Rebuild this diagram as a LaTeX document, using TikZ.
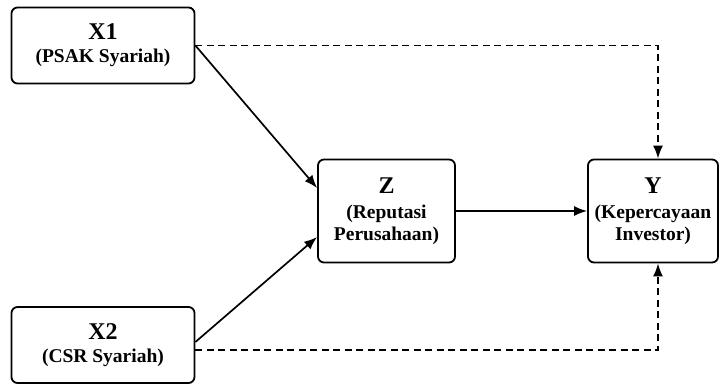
\documentclass[tikz,border=0pt]{standalone}
\usepackage{fontspec}
\setmainfont{Liberation Serif}
\usetikzlibrary{arrows.meta}

\newcommand{\judul}[1]{{\fontsize{24}{26}\selectfont #1}}

\begin{document}
\begin{tikzpicture}[x=1pt, y=1pt,
    var/.style={draw, line width=1.8pt, rounded corners=6pt, align=center,
        font=\bfseries\fontsize{19.5}{22}\selectfont},
    panah/.style={line width=1.7pt, -{Latex[length=13pt,width=10pt]}},
    putus/.style={panah, dashed, dash pattern=on 7pt off 4.5pt}]
    \useasboundingbox (0,0) rectangle (720,-385);

    % variabel
    \node[var, minimum width=183pt, minimum height=76pt] (X1) at (103,-45.5)
        {\judul{X1}\\[1pt](PSAK Syariah)};
    \node[var, minimum width=183pt, minimum height=76pt] (X2) at (103,-345)
        {\judul{X2}\\[1pt](CSR Syariah)};
    \node[var, minimum width=137pt, minimum height=103pt] (Z) at (386.5,-211)
        {\judul{Z}\\[3pt](Reputasi\\Perusahaan)};
    \node[var, minimum width=130pt, minimum height=103pt] (Y) at (653,-211)
        {\judul{Y}\\[3pt](Kepercayaan\\Investor)};

    % pengaruh langsung
    \draw[panah] (X1.east) -- ([yshift=23pt]Z.west);
    \draw[panah] ([yshift=3pt]X2.east) -- ([yshift=-26pt]Z.west);
    \draw[panah] (Z) -- (Y);

    % pengaruh tidak langsung
    \draw[putus] (X1.east) -| ([xshift=5pt]Y.north);
    \draw[putus] ([yshift=-5pt]X2.east) -| ([xshift=5pt]Y.south);
\end{tikzpicture}
\end{document}
